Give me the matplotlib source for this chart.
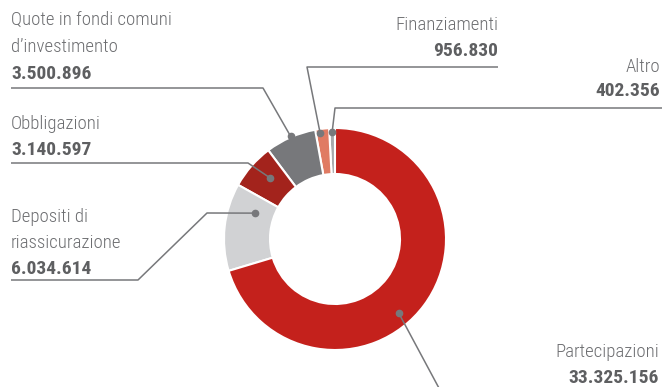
import numpy as np
import matplotlib.pyplot as plt
from matplotlib import font_manager

names = {f.name for f in font_manager.fontManager.ttflist}
narrow = [n for n in ['Roboto Condensed', 'Liberation Sans Narrow', 'Open Sans Condensed',
                      'DejaVu Sans Condensed'] if n in names]
plt.rcParams['font.family'] = narrow[:1] + ['Roboto', 'DejaVu Sans']

# portfolio composition, counter-clockwise from the top
labels = ['Altro', 'Finanziamenti', 'Quote in fondi comuni\nd\u2019investimento',
          'Obbligazioni', 'Depositi di\nriassicurazione', 'Partecipazioni']
values = [402356, 956830, 3500896, 3140597, 6034614, 33325156]
value_text = ['402.356', '956.830', '3.500.896', '3.140.597', '6.034.614', '33.325.156']
colors = ['#a7a9ac', '#e07b63', '#77787b', '#a3231c', '#d1d2d4', '#c4211c']

W, H = 666, 387
CX, CY, R, RING = 335, 148, 111, 46

fig = plt.figure(figsize=(W / 100, H / 100), dpi=100)
ax = fig.add_axes([0, 0, 1, 1])
ax.axis('off')

wedges, _ = ax.pie(values, colors=colors, startangle=90, counterclock=True,
                   center=(CX, CY), radius=R,
                   wedgeprops=dict(width=RING, edgecolor='white', linewidth=1.5))
ax.set_xlim(0, W)
ax.set_ylim(0, H)
ax.set_aspect('equal')

line_col = '#77787b'
txt_col = '#6d6e71'
num_col = '#5e5f61'


def Y(py):
    return H - py


# where the leader touches each wedge: (fraction along the arc, radius)
anchor = [(0.5, 107), (0.68, 107), (0.49, 112), (0.41, 89), (0.245, 84), (0.45, 98)]
# leader path after the anchor point, in pixel coords from the top-left
paths = [
    [(335, 108), (662, 108)],
    [(307, 67), (498, 67)],
    [(263, 88), (11, 88)],
    [(248, 163), (11, 163)],
    [(207, 213), (138, 280), (11, 280)],
    [(440, 390)],
]
# text: (x, baseline of each row, align)
text_pos = [(660, [72, 96], 'right'),
            (498, [30, 56], 'right'),
            (11, [25, 52, 79], 'left'),
            (11, [129, 155], 'left'),
            (11, [222, 248, 274], 'left'),
            (659, [357, 383], 'right')]

for w, (frac, rad), path, (tx, rows_y, ha), lab, num in zip(
        wedges, anchor, paths, text_pos, labels, value_text):
    ang = np.deg2rad(w.theta1 + frac * (w.theta2 - w.theta1))
    ax0 = CX + rad * np.cos(ang)
    ay0 = CY + rad * np.sin(ang)
    xs = [ax0] + [p[0] for p in path]
    ys = [ay0] + [Y(p[1]) for p in path]
    ax.plot(xs, ys, color=line_col, lw=1.1, solid_capstyle='butt', clip_on=False)
    ax.plot(ax0, ay0, 'o', color=line_col, ms=4.5)

    rows = lab.split('\n')
    for row, by in zip(rows, rows_y):
        ax.text(tx, Y(by), row, ha=ha, va='baseline',
                fontsize=13.5, fontweight='light', color=txt_col)
    ax.text(tx, Y(rows_y[-1]), num, ha=ha, va='baseline',
            fontsize=14, fontweight='bold', color=num_col)

fig.savefig('out.png', dpi=100)
